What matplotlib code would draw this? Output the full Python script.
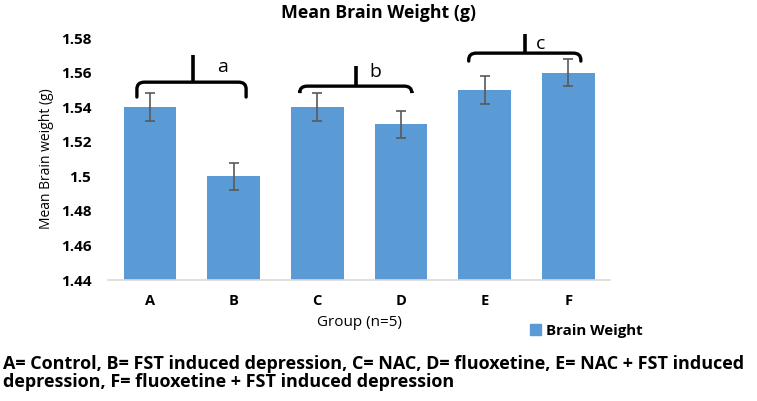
import matplotlib.pyplot as plt
from matplotlib.path import Path
from matplotlib.patches import PathPatch, Patch

groups = ['A', 'B', 'C', 'D', 'E', 'F']
brain_weight = [1.54, 1.50, 1.54, 1.53, 1.55, 1.56]
error = [0.008, 0.008, 0.008, 0.008, 0.008, 0.008]
y_ticks = [1.44, 1.46, 1.48, 1.50, 1.52, 1.54, 1.56, 1.58]
y_tick_labels = ['1.44', '1.46', '1.48', '1.5', '1.52', '1.54', '1.56', '1.58']
caption = ("A= Control, B= FST induced depression, C= NAC, D= fluoxetine, E= NAC + FST induced\n"
           "depression, F= fluoxetine + FST induced depression")

plt.rcParams['font.family'] = ['Open Sans', 'DejaVu Sans']

fig = plt.figure(figsize=(7.57, 4.01), dpi=100)
ax = fig.add_axes([0.1427, 0.3017, 0.8060 - 0.1427, 0.905 - 0.3017])

x = list(range(len(groups)))
ax.bar(x, [v - 1.44 for v in brain_weight], bottom=1.44, width=0.63, color='#5B9BD5',
       label='Brain Weight', zorder=2)
ax.errorbar(x, brain_weight, yerr=error, fmt='none', ecolor='#595959', elinewidth=1.2,
            capsize=3.5, capthick=1.2, zorder=3)

ax.set_xlim(-0.5, 5.5)
ax.set_ylim(1.44, 1.58)
ax.set_yticks(y_ticks)
ax.set_yticklabels(y_tick_labels, fontsize=11, fontweight='bold')
ax.set_xticks(x)
ax.set_xticklabels(groups, fontsize=10.5, fontweight='bold')
ax.tick_params(axis='both', length=0)
ax.tick_params(axis='y', pad=12)
ax.tick_params(axis='x', pad=10)
for s in ['top', 'right', 'left']:
    ax.spines[s].set_visible(False)
ax.spines['bottom'].set_color('#D9D9D9')
ax.spines['bottom'].set_linewidth(1.2)

ax.set_ylabel('Mean Brain weight (g)', fontsize=10, labelpad=5)
ax.set_xlabel('Group (n=5)', fontsize=11, labelpad=5)
fig.text(0.5, 0.9676, 'Mean Brain Weight (g)', ha='center', va='center',
         fontsize=12.8, fontweight='bold')


def brace(x0, x1, xc, ybot, yh, ytop, label, lx, ly):
    rx, ry = 0.09, 0.004
    verts = [(x0, ybot), (x0, yh - ry), (x0, yh), (x0 + rx, yh),
             (x1 - rx, yh), (x1, yh), (x1, yh - ry), (x1, ybot)]
    codes = [Path.MOVETO, Path.LINETO, Path.CURVE3, Path.CURVE3,
             Path.LINETO, Path.CURVE3, Path.CURVE3, Path.LINETO]
    ax.add_patch(PathPatch(Path(verts, codes), fill=False, lw=2.4, color='black',
                           capstyle='round', clip_on=False, zorder=4))
    ax.plot([xc, xc], [yh, ytop], color='black', lw=2.6, clip_on=False,
            solid_capstyle='butt', zorder=4)
    ax.text(lx, ly, label, fontsize=14, ha='center', va='center', clip_on=False)


brace(-0.155, 1.15, 0.51, 1.5459, 1.5545, 1.5702, 'a', 0.87, 1.5632)
brace(1.79, 3.13, 2.46, 1.5488, 1.5522, 1.5638, 'b', 2.69, 1.5603)
brace(3.81, 5.15, 4.48, 1.5667, 1.5713, 1.5823, 'c', 4.67, 1.5768)

leg = fig.legend(handles=[Patch(color='#5B9BD5', label='Brain Weight')],
                 loc='center left', bbox_to_anchor=(0.700, 0.175), frameon=False,
                 fontsize=10.8, handlelength=0.75, handleheight=0.75, handletextpad=0.3,
                 borderaxespad=0, borderpad=0)
for t in leg.get_texts():
    t.set_fontweight('bold')

fig.text(0.004, 0.0698, caption, ha='left', va='center', fontsize=13,
         fontweight='bold', linespacing=1.05)

fig.savefig('out.png', dpi=100)
